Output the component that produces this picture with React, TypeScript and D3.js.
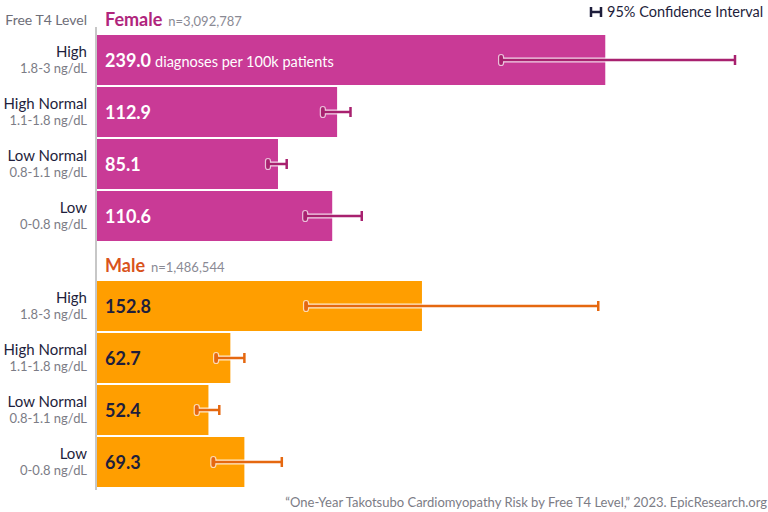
import React, { useEffect, useRef } from 'react';
import * as d3 from 'd3';

const levels = ['High', 'High Normal', 'Low Normal', 'Low'];
const levelRanges = ['1.8-3 ng/dL', '1.1-1.8 ng/dL', '0.8-1.1 ng/dL', '0-0.8 ng/dL'];

const femaleRates = [239.0, 112.9, 85.1, 110.6];
const femaleLower = [190.0, 106.2, 80.4, 97.9];
const femaleUpper = [300.0, 119.2, 89.2, 124.5];

const maleRates = [152.8, 62.7, 52.4, 69.3];
const maleLower = [98.3, 56.0, 46.9, 54.7];
const maleUpper = [235.7, 69.3, 57.5, 86.9];

const groups = [
  { name: 'Female', n: 'n=3,092,787', rates: femaleRates, lower: femaleLower, upper: femaleUpper,
    bar: '#c93a96', title: '#b0257c', whisker: '#a8216f', text: '#ffffff', top: 35 },
  { name: 'Male', n: 'n=1,486,544', rates: maleRates, lower: maleLower, upper: maleUpper,
    bar: '#ff9e00', title: '#d9531c', whisker: '#e56810', text: '#1e1e3c', top: 281 },
];

const FONT = 'Lato, "Open Sans", sans-serif';

function TakotsuboChart() {
  const ref = useRef<SVGSVGElement>(null);

  useEffect(() => {
    const svg = d3.select(ref.current);
    svg.selectAll('*').remove();

    const x = d3.scaleLinear().domain([0, 300]).range([97, 735]);

    // axis line down the left side of the bars
    svg.append('line')
      .attr('x1', 96).attr('x2', 96)
      .attr('y1', 27).attr('y2', 490)
      .attr('stroke', '#b5b5b5').attr('stroke-width', 1.5);

    svg.append('text')
      .attr('x', 87).attr('y', 25)
      .attr('text-anchor', 'end')
      .attr('font-size', 14).attr('fill', '#6e6e78')
      .text('Free T4 Level');

    groups.forEach(g => {
      const y = d3.scaleBand()
        .domain(levels)
        .range([g.top, g.top + 206])
        .paddingInner(2 / 52);

      const title = svg.append('text')
        .attr('x', 105).attr('y', g.top - 9)
        .attr('font-family', FONT);
      title.append('tspan')
        .attr('font-size', 18).attr('font-weight', 700).attr('fill', g.title)
        .text(g.name);
      title.append('tspan')
        .attr('dx', 6)
        .attr('font-size', 13).attr('fill', '#8a8a94')
        .text(g.n);

      levels.forEach((lvl, i) => {
        const yc = y(lvl)! + y.bandwidth() / 2;

        svg.append('rect')
          .attr('x', x(0)).attr('y', y(lvl)!)
          .attr('width', x(g.rates[i]) - x(0))
          .attr('height', y.bandwidth())
          .attr('fill', g.bar);

        svg.append('text')
          .attr('x', 87).attr('y', yc - 3)
          .attr('text-anchor', 'end')
          .attr('font-size', 15).attr('fill', '#1e1e3c')
          .text(lvl);
        svg.append('text')
          .attr('x', 87).attr('y', yc + 13)
          .attr('text-anchor', 'end')
          .attr('font-size', 13).attr('fill', '#7c7c86')
          .text(levelRanges[i]);

        const val = svg.append('text')
          .attr('x', 105).attr('y', yc + 7)
          .attr('fill', g.text);
        val.append('tspan')
          .attr('font-size', 18).attr('font-weight', 700)
          .text(g.rates[i].toFixed(1));
        if (g.name === 'Female' && i === 0) {
          val.append('tspan')
            .attr('dx', 4)
            .attr('font-size', 14.5)
            .text('diagnoses per 100k patients');
        }

        // confidence interval whisker, white halo under the coloured stroke
        const x0 = x(g.lower[i]);
        const x1 = x(g.upper[i]);
        const ci = svg.append('g');
        ci.append('line')
          .attr('x1', x0).attr('x2', x1).attr('y1', yc).attr('y2', yc)
          .attr('stroke', '#fff').attr('stroke-opacity', 0.8).attr('stroke-width', 5);
        ci.append('rect')
          .attr('x', x0 - 2.5).attr('y', yc - 5.5)
          .attr('width', 5).attr('height', 11).attr('rx', 2.5)
          .attr('fill', g.whisker).attr('stroke', '#fff').attr('stroke-opacity', 0.7).attr('stroke-width', 1.2);
        ci.append('line')
          .attr('x1', x0).attr('x2', x1).attr('y1', yc).attr('y2', yc)
          .attr('stroke', g.whisker).attr('stroke-width', 2.5);
        ci.append('line')
          .attr('x1', x1).attr('x2', x1).attr('y1', yc - 5).attr('y2', yc + 5)
          .attr('stroke', g.whisker).attr('stroke-width', 2.5);
      });
    });

    // legend
    const lg = svg.append('g').attr('stroke', '#1e1e3c').attr('stroke-width', 2.5);
    lg.append('line').attr('x1', 591).attr('x2', 601).attr('y1', 12).attr('y2', 12);
    lg.append('line').attr('x1', 591).attr('x2', 591).attr('y1', 7).attr('y2', 17);
    lg.append('line').attr('x1', 601).attr('x2', 601).attr('y1', 7).attr('y2', 17);
    svg.append('text')
      .attr('x', 607).attr('y', 17)
      .attr('font-size', 14.5).attr('fill', '#1e1e3c')
      .text('95% Confidence Interval');

    svg.append('text')
      .attr('x', 767).attr('y', 507)
      .attr('text-anchor', 'end')
      .attr('font-size', 13).attr('fill', '#7c7c86')
      .text('\u201cOne-Year Takotsubo Cardiomyopathy Risk by Free T4 Level,\u201d 2023. EpicResearch.org');
  }, []);

  return (
    <svg ref={ref} width={768} height={512}
      style={{ position: 'absolute', left: 0, top: 0, fontFamily: FONT, background: '#fff' }} />
  );
}

export default function App() {
  return <TakotsuboChart />;
}
